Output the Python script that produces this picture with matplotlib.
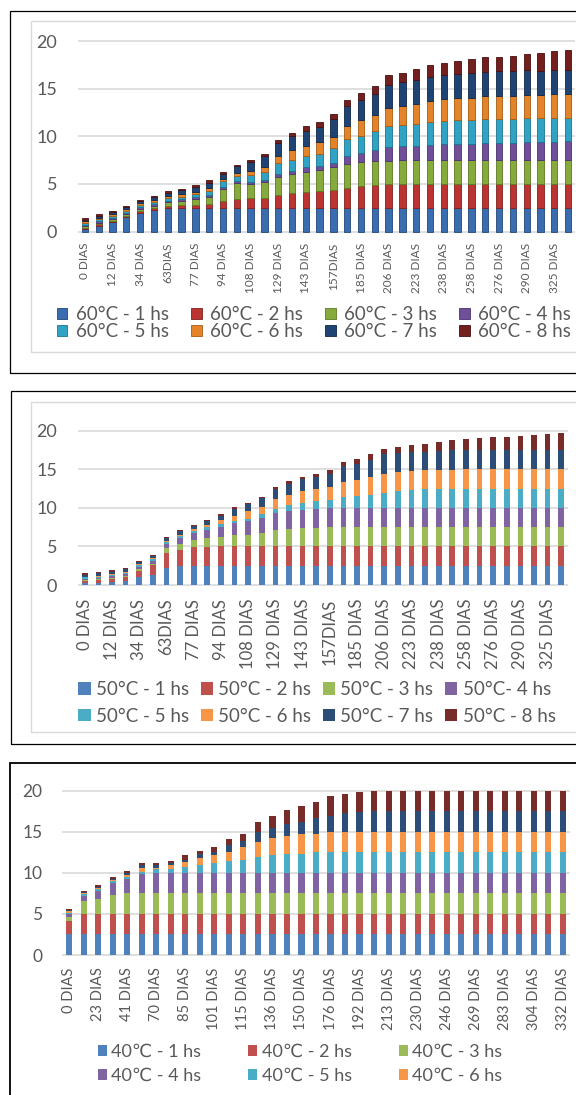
import numpy as np
import matplotlib
matplotlib.use("Agg")
import matplotlib.pyplot as plt
from matplotlib.patches import Rectangle

plt.rcParams['font.family'] = ['Lato', 'DejaVu Sans']

W, H = 576, 1095

# ---------- data ----------
dias_60 = ['0 DIAS', '12 DIAS', '34 DIAS', '63DIAS', '77 DIAS', '94 DIAS', '108 DIAS', '129 DIAS', '143 DIAS',
           '157DIAS', '185 DIAS', '206 DIAS', '223 DIAS', '238 DIAS', '258 DIAS', '276 DIAS', '290 DIAS', '325 DIAS']
dias_50 = ['0 DIAS', '12 DIAS', '34 DIAS', '63DIAS', '77 DIAS', '94 DIAS', '108 DIAS', '129 DIAS', '143 DIAS',
           '157DIAS', '185 DIAS', '206 DIAS', '223 DIAS', '238 DIAS', '258 DIAS', '276 DIAS', '290 DIAS', '325 DIAS']
dias_40 = ['0 DIAS', '23 DIAS', '41 DIAS', '70 DIAS', '85 DIAS', '101 DIAS', '115 DIAS', '136 DIAS', '150 DIAS',
           '176 DIAS', '192 DIAS', '213 DIAS', '230 DIAS', '246 DIAS', '269 DIAS', '283 DIAS', '304 DIAS', '332 DIAS']

leg_60 = ['60°C - 1 hs', '60°C - 2 hs', '60°C - 3 hs', '60°C - 4 hs',
          '60°C - 5 hs', '60°C - 6 hs', '60°C - 7 hs', '60°C - 8 hs']
leg_50 = ['50°C - 1 hs', '50°C - 2 hs', '50°C - 3 hs', '50°C- 4 hs',
          '50°C - 5 hs', '50°C - 6 hs', '50°C - 7 hs', '50°C - 8 hs']
leg_40 = ['40℃ - 1 hs', '40℃ - 2 hs', '40℃ - 3 hs', '40℃ - 4 hs',
          '40℃ - 5 hs', '40℃ - 6 hs', '40℃ - 7 hs', '40℃ - 8 hs']

# 60 °C (36 bars)
c60_1 = [0.25, 0.60, 0.95, 1.48, 1.97, 2.30, 2.43, 2.45, 2.48, 2.48, 2.50, 2.50, 2.50, 2.50, 2.50, 2.50, 2.50, 2.50,
         2.50, 2.50, 2.50, 2.50, 2.50, 2.50, 2.50, 2.50, 2.50, 2.50, 2.50, 2.50, 2.50, 2.50, 2.50, 2.50, 2.50, 2.50]
c60_2 = [0.15, 0.17, 0.18, 0.17, 0.18, 0.18, 0.22, 0.30, 0.35, 0.45, 0.67, 0.92, 0.99, 0.99, 1.37, 1.55, 1.65, 1.76,
         1.90, 2.11, 2.29, 2.39, 2.45, 2.50, 2.50, 2.50, 2.50, 2.50, 2.50, 2.50, 2.50, 2.50, 2.50, 2.50, 2.50, 2.50]
c60_3 = [0.15, 0.17, 0.17, 0.17, 0.22, 0.25, 0.40, 0.50, 0.60, 0.75, 1.27, 1.65, 1.51, 1.69, 1.90, 2.01, 2.15, 2.18,
         2.36, 2.50, 2.50, 2.50, 2.50, 2.50, 2.50, 2.50, 2.50, 2.50, 2.50, 2.50, 2.50, 2.50, 2.50, 2.50, 2.50, 2.50]
c60_4 = [0.15, 0.16, 0.16, 0.16, 0.16, 0.15, 0.15, 0.12, 0.15, 0.15, 0.28, 0.21, 0.25, 0.24, 0.29, 0.28, 0.46, 0.50,
         0.49, 0.78, 0.95, 1.20, 1.44, 1.48, 1.48, 1.55, 1.65, 1.69, 1.72, 1.76, 1.79, 1.83, 1.87, 1.87, 1.90, 1.97]
c60_5 = [0.18, 0.18, 0.18, 0.18, 0.22, 0.22, 0.30, 0.30, 0.35, 0.40, 0.60, 0.60, 0.74, 0.81, 1.12, 1.20, 1.14, 1.23,
         1.52, 1.79, 1.76, 2.00, 2.23, 2.25, 2.32, 2.43, 2.45, 2.50, 2.54, 2.54, 2.54, 2.54, 2.53, 2.53, 2.54, 2.50]
c60_6 = [0.18, 0.18, 0.18, 0.18, 0.20, 0.20, 0.25, 0.25, 0.25, 0.30, 0.21, 0.25, 0.38, 0.60, 0.74, 0.98, 1.10, 1.23,
         1.13, 1.45, 1.69, 1.62, 1.90, 1.97, 2.08, 2.22, 2.30, 2.31, 2.32, 2.40, 2.43, 2.43, 2.50, 2.43, 2.53, 2.53]
c60_7 = [0.20, 0.20, 0.22, 0.22, 0.25, 0.28, 0.33, 0.40, 0.50, 0.60, 0.53, 0.74, 0.92, 1.06, 1.38, 1.48, 1.56, 1.60,
         1.90, 2.04, 2.11, 2.25, 2.43, 2.50, 2.52, 2.50, 2.54, 2.55, 2.54, 2.60, 2.57, 2.54, 2.54, 2.50, 2.50, 2.47]
c60_8 = [0.15, 0.14, 0.14, 0.14, 0.15, 0.15, 0.18, 0.18, 0.25, 0.33, 0.21, 0.13, 0.28, 0.24, 0.35, 0.35, 0.50, 0.50,
         0.56, 0.70, 0.80, 0.85, 1.04, 0.96, 1.14, 1.26, 1.26, 1.35, 1.48, 1.55, 1.57, 1.66, 1.72, 1.90, 2.01, 2.08]

# 50 °C (36 bars)
c50_1 = [0.30, 0.30, 0.39, 0.56, 1.03, 1.33, 2.14, 2.40, 2.44, 2.50, 2.50, 2.50, 2.50, 2.50, 2.50, 2.50, 2.50, 2.50,
         2.50, 2.50, 2.50, 2.50, 2.50, 2.50, 2.50, 2.50, 2.50, 2.50, 2.50, 2.50, 2.50, 2.50, 2.50, 2.50, 2.50, 2.50]
c50_2 = [0.20, 0.30, 0.35, 0.45, 0.77, 1.20, 1.97, 2.18, 2.50, 2.47, 2.50, 2.50, 2.50, 2.50, 2.50, 2.50, 2.50, 2.50,
         2.50, 2.50, 2.50, 2.50, 2.50, 2.50, 2.50, 2.50, 2.50, 2.50, 2.50, 2.50, 2.50, 2.50, 2.50, 2.50, 2.50, 2.50]
c50_3 = [0.18, 0.20, 0.20, 0.22, 0.30, 0.25, 0.64, 0.77, 0.90, 1.11, 1.25, 1.47, 1.51, 1.72, 2.07, 2.28, 2.37, 2.41,
         2.50, 2.50, 2.50, 2.50, 2.50, 2.50, 2.50, 2.50, 2.50, 2.50, 2.50, 2.50, 2.50, 2.50, 2.50, 2.50, 2.50, 2.50]
c50_4 = [0.15, 0.15, 0.18, 0.20, 0.25, 0.30, 0.56, 0.69, 0.85, 1.07, 1.33, 1.53, 1.80, 1.97, 2.22, 2.31, 2.39, 2.44,
         2.44, 2.50, 2.50, 2.50, 2.50, 2.50, 2.50, 2.50, 2.50, 2.50, 2.50, 2.50, 2.50, 2.50, 2.50, 2.50, 2.50, 2.50]
c50_5 = [0.15, 0.15, 0.15, 0.18, 0.20, 0.25, 0.26, 0.30, 0.30, 0.34, 0.30, 0.27, 0.26, 0.56, 0.60, 0.73, 0.86, 1.03,
         1.06, 1.35, 1.52, 1.69, 1.95, 2.12, 2.29, 2.38, 2.42, 2.45, 2.50, 2.50, 2.50, 2.50, 2.50, 2.50, 2.50, 2.50]
c50_6 = [0.12, 0.12, 0.12, 0.12, 0.15, 0.18, 0.13, 0.13, 0.26, 0.30, 0.56, 0.72, 0.98, 0.90, 1.24, 1.33, 1.54, 1.50,
         1.72, 1.97, 2.10, 2.27, 2.48, 2.53, 2.49, 2.48, 2.48, 2.50, 2.50, 2.50, 2.50, 2.50, 2.50, 2.50, 2.50, 2.50]
c50_7 = [0.25, 0.32, 0.32, 0.33, 0.28, 0.28, 0.38, 0.51, 0.39, 0.51, 0.55, 0.90, 0.90, 1.07, 1.33, 1.50, 1.54, 1.62,
         1.71, 2.14, 2.10, 2.27, 2.57, 2.52, 2.44, 2.44, 2.49, 2.50, 2.50, 2.50, 2.50, 2.50, 2.50, 2.50, 2.50, 2.50]
c50_8 = [0.15, 0.17, 0.17, 0.17, 0.15, 0.15, 0.17, 0.17, 0.12, 0.18, 0.22, 0.17, 0.21, 0.21, 0.30, 0.30, 0.35, 0.35,
         0.52, 0.43, 0.60, 0.77, 0.64, 0.77, 0.98, 0.94, 1.15, 1.35, 1.43, 1.56, 1.64, 1.64, 1.77, 1.90, 2.07, 2.16]

# 40 °C (35 bars)
c40_1 = [2.50, 2.50, 2.50, 2.50, 2.50, 2.50, 2.50, 2.50, 2.50, 2.50, 2.50, 2.50, 2.50, 2.50, 2.50, 2.50, 2.50, 2.50,
         2.50, 2.50, 2.50, 2.50, 2.50, 2.50, 2.50, 2.50, 2.50, 2.50, 2.50, 2.50, 2.50, 2.50, 2.50, 2.50, 2.50]
c40_2 = [1.68, 2.50, 2.50, 2.50, 2.50, 2.50, 2.50, 2.50, 2.50, 2.50, 2.50, 2.50, 2.50, 2.50, 2.50, 2.50, 2.50, 2.50,
         2.50, 2.50, 2.50, 2.50, 2.50, 2.50, 2.50, 2.50, 2.50, 2.50, 2.50, 2.50, 2.50, 2.50, 2.50, 2.50, 2.50]
c40_3 = [0.49, 1.57, 1.82, 2.30, 2.50, 2.50, 2.50, 2.50, 2.50, 2.50, 2.50, 2.50, 2.50, 2.50, 2.50, 2.50, 2.50, 2.50,
         2.50, 2.50, 2.50, 2.50, 2.50, 2.50, 2.50, 2.50, 2.50, 2.50, 2.50, 2.50, 2.50, 2.50, 2.50, 2.50, 2.50]
c40_4 = [0.28, 0.57, 0.97, 1.50, 1.79, 2.40, 2.44, 2.44, 2.44, 2.44, 2.44, 2.44, 2.44, 2.44, 2.44, 2.44, 2.44, 2.50,
         2.50, 2.50, 2.50, 2.50, 2.50, 2.50, 2.50, 2.50, 2.50, 2.50, 2.50, 2.50, 2.50, 2.50, 2.50, 2.50, 2.50]
c40_5 = [0.20, 0.24, 0.24, 0.17, 0.24, 0.24, 0.49, 0.49, 0.73, 1.01, 1.22, 1.46, 1.66, 1.95, 2.19, 2.39, 2.39, 2.50,
         2.50, 2.50, 2.50, 2.50, 2.50, 2.50, 2.50, 2.50, 2.50, 2.50, 2.50, 2.50, 2.50, 2.50, 2.50, 2.50, 2.50]
c40_6 = [0.16, 0.17, 0.16, 0.12, 0.17, 0.45, 0.20, 0.48, 0.65, 0.85, 0.97, 1.18, 1.54, 1.90, 2.15, 2.19, 2.40, 2.23,
         2.50, 2.50, 2.50, 2.50, 2.50, 2.50, 2.50, 2.50, 2.50, 2.50, 2.50, 2.50, 2.50, 2.50, 2.50, 2.50, 2.50]
c40_7 = [0.13, 0.12, 0.13, 0.20, 0.28, 0.32, 0.28, 0.25, 0.24, 0.53, 0.41, 0.77, 0.69, 1.22, 1.18, 1.42, 1.50, 1.98,
         1.96, 2.24, 2.44, 2.50, 2.50, 2.50, 2.50, 2.50, 2.50, 2.50, 2.50, 2.50, 2.50, 2.50, 2.50, 2.50, 2.50]
c40_8 = [0.12, 0.08, 0.16, 0.16, 0.20, 0.25, 0.25, 0.24, 0.57, 0.29, 0.60, 0.73, 0.94, 1.18, 1.46, 1.75, 1.90, 1.91,
         2.39, 2.39, 2.40, 2.50, 2.50, 2.50, 2.50, 2.50, 2.50, 2.50, 2.50, 2.50, 2.50, 2.50, 2.50, 2.50, 2.50]

# ---------- styles ----------
office = ['#4f81bd', '#c0504d', '#9bbb59', '#8064a2', '#4bacc6', '#f79646', '#2c4d75', '#772c2a']
bevel = ['#3a6cb0', '#bb3432', '#86ab3c', '#6e4f98', '#30a2c3', '#e3842a', '#1f4373', '#731f1d']
bevel_edge = ['#214878', '#80201e', '#5b7a22', '#4a326d', '#1b7490', '#a65c12', '#0f2748', '#481010']
gray = '#595959'

fig = plt.figure(figsize=(W / 100, H / 100), dpi=100)


def frame(x0, y0, x1, y1, color, lw):
    fig.add_artist(Rectangle((x0 / W, 1 - y1 / H), (x1 - x0) / W, (y1 - y0) / H,
                             transform=fig.transFigure, fill=False, edgecolor=color, linewidth=lw))


def panel(left, right, zero_y, unit):
    top = zero_y - 20.5 * unit
    bottom = zero_y + 0.15 * unit
    return fig.add_axes([left / W, 1 - bottom / H, (right - left) / W, (bottom - top) / H])


def stacked(ax, series, labels, colors, edges, width, lw):
    x = np.arange(len(series[0]))
    base = np.zeros(len(x))
    bars = []
    for vals, lab, c, e in zip(series, labels, colors, edges):
        bars.append(ax.bar(x, vals, width, bottom=base, color=c, edgecolor=e,
                           linewidth=lw, label=lab, zorder=3))
        base = base + np.array(vals)
    ax.set_xlim(-0.5, len(x) - 0.5)
    ax.set_ylim(-0.15, 20.5)
    return bars


def axis_style(ax, ticklabels, xfs, xpad, yfs, ypad):
    ax.set_yticks([0, 5, 10, 15, 20])
    ax.set_xticks(range(0, 2 * len(ticklabels), 2))
    ax.set_xticklabels(ticklabels, rotation=90, fontsize=xfs, color=gray)
    ax.tick_params(length=0)
    ax.tick_params(axis='x', pad=xpad)
    ax.tick_params(axis='y', labelsize=yfs, labelcolor=gray, pad=ypad)
    ax.grid(axis='y', color='#d9d9d9', linewidth=1.2)
    ax.set_axisbelow(True)
    for s in ax.spines.values():
        s.set_visible(False)


def row_first(items, ncol, nrow):
    # matplotlib fills legend columns first, Excel fills rows first
    return [items[r * ncol + c] for c in range(ncol) for r in range(nrow)]


# ---------- panel 1 : 60 °C ----------
frame(10, 11, 620, 373, 'black', 0.9)
frame(31, 21, 610, 352, '#d9d9d9', 1.0)
ax1 = panel(78, 575, 231.5, 9.51)
b1 = stacked(ax1, [c60_1, c60_2, c60_3, c60_4, c60_5, c60_6, c60_7, c60_8], leg_60,
             bevel, bevel_edge, 0.46, 0.6)
axis_style(ax1, dias_60, 8.5, 7, 13, 15)
fig.legend(row_first(b1, 4, 2), row_first(leg_60, 4, 2), loc='center',
           bbox_to_anchor=(314 / W, 1 - 323 / H), ncol=4, frameon=False,
           fontsize=13.5, labelcolor=gray, handlelength=0.55, handleheight=0.55, handletextpad=0.45,
           columnspacing=1.2, labelspacing=0.0, borderpad=0)

# ---------- panel 2 : 50 °C ----------
frame(11, 391, 620, 744, 'black', 0.9)
frame(31, 402, 610, 732, '#d9d9d9', 1.0)
ax2 = panel(78, 568, 585, 7.715)
b2 = stacked(ax2, [c50_1, c50_2, c50_3, c50_4, c50_5, c50_6, c50_7, c50_8], leg_50,
             office, office, 0.42, 0)
axis_style(ax2, dias_50, 12, 9, 13, 15)
fig.legend(row_first(b2, 4, 2), row_first(leg_50, 4, 2), loc='center',
           bbox_to_anchor=(317 / W, 1 - 703 / H), ncol=4, frameon=False,
           fontsize=13.5, labelcolor=gray, handlelength=0.65, handleheight=0.65, handletextpad=0.3,
           columnspacing=0.6, labelspacing=0.5, borderpad=0)

# ---------- panel 3 : 40 °C (legend cut at the bottom of the image) ----------
frame(10, 763, 620, 1200, 'black', 1.3)
ax3 = panel(62, 570, 955, 8.215)
b3 = stacked(ax3, [c40_1, c40_2, c40_3, c40_4, c40_5, c40_6, c40_7, c40_8], leg_40,
             office, office, 0.42, 0)
axis_style(ax3, dias_40, 10.5, 8, 12.5, 14)
fig.legend(row_first(b3[:6], 3, 2), row_first(leg_40[:6], 3, 2), loc='center',
           bbox_to_anchor=(300 / W, 1 - 1064 / H), ncol=3, frameon=False,
           fontsize=13, labelcolor=gray, handlelength=0.5, handleheight=0.6, handletextpad=0.25,
           columnspacing=2.6, labelspacing=0.45, borderpad=0)

fig.savefig('out.png', dpi=100)
